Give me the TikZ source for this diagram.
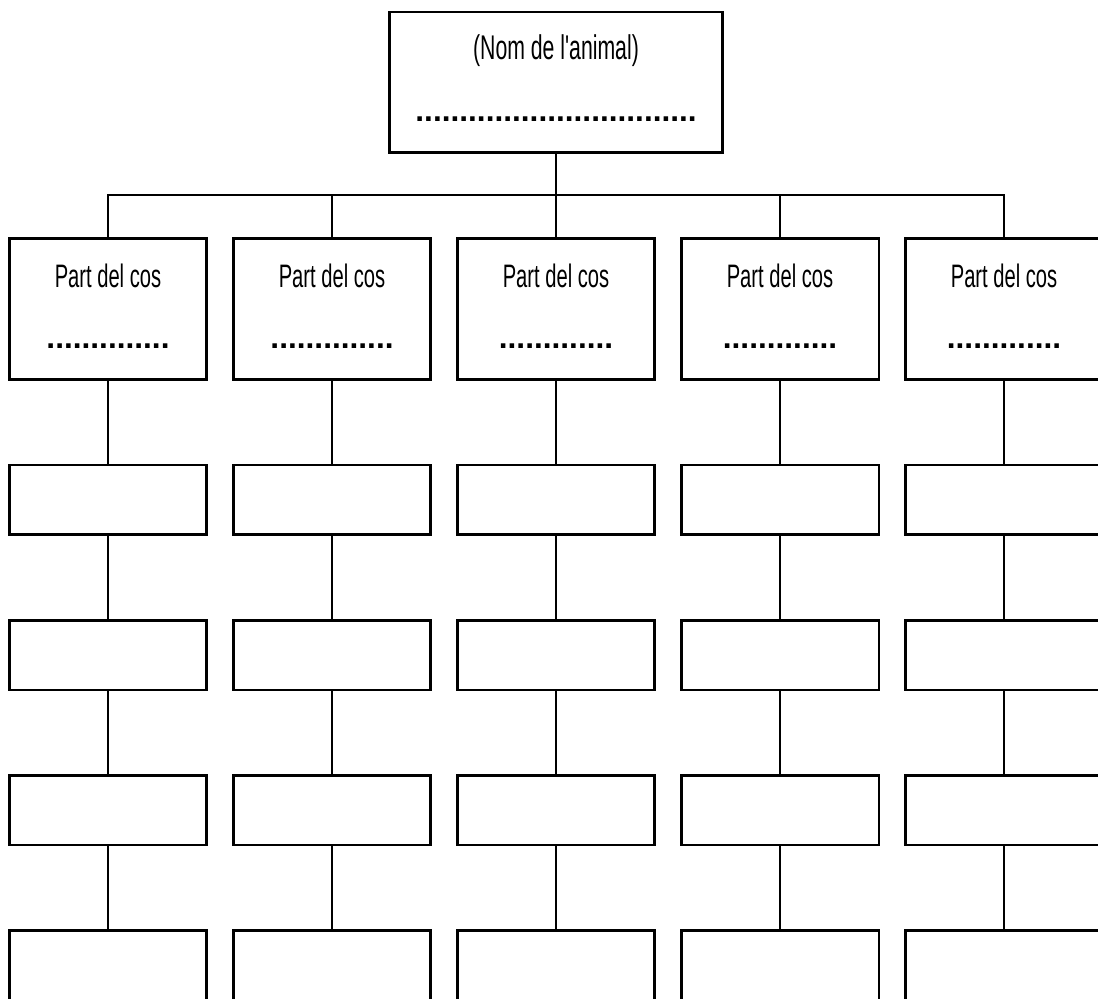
\documentclass[tikz,border=0pt]{standalone}
\usepackage{fontspec}
\setmainfont{Liberation Sans}[FakeStretch=0.62, Ligatures=TeXOff]
\newfontfamily\dotfont{Liberation Sans}
\usetikzlibrary{positioning}
\tikzset{
  every picture/.style={x=0.02cm, y=-0.02cm},
  box/.style={draw, line width=1.7pt, minimum width=3.96cm, minimum height=1.4cm, inner sep=0pt},
  partbox/.style={box, minimum height=2.84cm},
  topbox/.style={box, minimum width=6.68cm, minimum height=2.82cm},
  wire/.style={line width=1.1pt},
  parttext/.style={inner sep=0pt, font=\fontsize{18.5}{21}\selectfont},
  titletext/.style={inner sep=0pt, font=\fontsize{19.5}{23}\selectfont},
  dots/.style={inner sep=0pt, font=\dotfont\bfseries\fontsize{18}{20}\selectfont},
}

\begin{document}
\begin{tikzpicture}
  \useasboundingbox (0,0) rectangle (1098,999);
  \clip (0,0) rectangle (1098,999);
  % animal
  \node[topbox] (animal) at (556,82.5) {};
  \node[titletext] (animalname) at (556,51) {(Nom de l'animal)};
  \node[dots] (animaldots) at (556,119) {................................};
  \coordinate (bus) at (556,195);
  % body parts
  \foreach \i/\x/\d in {1/108/{..............}, 2/332/{..............}, 3/556/{.............}, 4/780/{.............}, 5/1004/{.............}} {
    \node[partbox] (part\i) at (\x,309) {};
    \node[parttext] (parttitle\i) at (\x,276) {Part del cos};
    \node[dots] (partdots\i) at (\x,346) {\d};
    \draw[wire] (animal.south) -- (bus) -| (part\i.north);
    \foreach \j/\y in {1/500, 2/655, 3/810, 4/965}
      \node[box] (b\i-\j) at (\x,\y) {};
    \draw[wire] (part\i) -- (b\i-1) (b\i-1) -- (b\i-2) (b\i-2) -- (b\i-3) (b\i-3) -- (b\i-4);
  }
\end{tikzpicture}
\end{document}
